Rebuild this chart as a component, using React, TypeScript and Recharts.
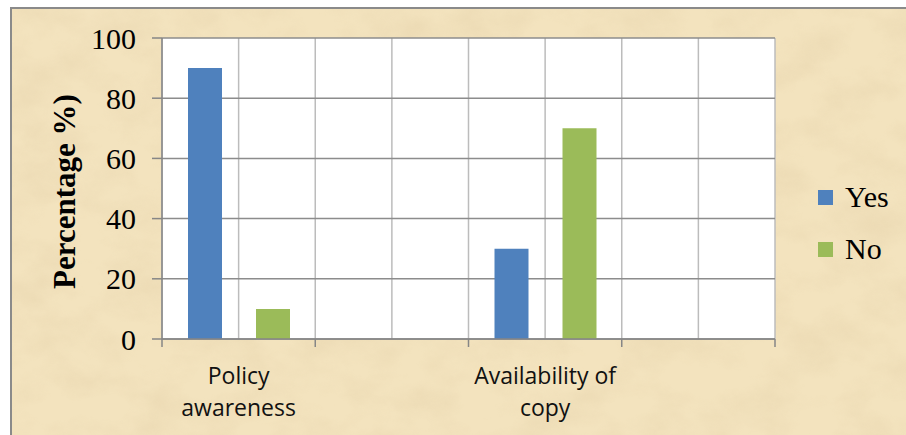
import { BarChart, Bar, XAxis, YAxis, CartesianGrid, Legend, Label } from "recharts"

const categories = ["Policy\nawareness", "", "Availability of\ncopy", ""]
const seriesNames = ["Yes", "No"]
const yesValues = [90, null, 30, null]
const noValues = [10, null, 70, null]
const yTicks = [0, 20, 40, 60, 80, 100]

const W = 906
const H = 435
const margin = { top: 38, right: 131, bottom: 36, left: 62 }
const Y_AXIS_W = 100
const X_AXIS_H = 60
const PLOT_W = W - margin.left - margin.right - Y_AXIS_W
const BAND = PLOT_W / categories.length

const serif = '"Liberation Serif", "Times New Roman", serif'
const sans = '"Open Sans", "Liberation Sans", sans-serif'
const axisGray = "#868686"

const rows = categories.map((name, i) => ({
  slot: i,
  name,
  yes: yesValues[i],
  no: noValues[i],
}))

// category label plus tick marks on the band edges
function CategoryTick(props: any) {
  const { x, y, payload, index } = props
  const lines = (categories[payload.value] || "").split("\n").filter(Boolean)
  const left = x - BAND / 2
  const right = x + BAND / 2
  return (
    <g>
      <line x1={left} x2={left} y1={y} y2={y + 8} stroke={axisGray} strokeWidth={1.5} />
      {index === categories.length - 1 && (
        <line x1={right} x2={right} y1={y} y2={y + 8} stroke={axisGray} strokeWidth={1.5} />
      )}
      {lines.length > 0 && (
        <text x={x} y={y + 45} textAnchor="middle" fontFamily={sans} fontSize={23} fill="#111">
          {lines.map((l: string, i: number) => (
            <tspan key={i} x={x} dy={i ? 32 : 0}>
              {l}
            </tspan>
          ))}
        </text>
      )}
    </g>
  )
}

function YTitle({ viewBox }: any) {
  const cx = viewBox.x + 13
  const cy = viewBox.y + viewBox.height / 2 + 3
  return (
    <text
      transform={`translate(${cx}, ${cy}) rotate(-90)`}
      textAnchor="middle"
      fontFamily={serif}
      fontWeight="bold"
      fontSize={31}
      fill="#000"
    >
      Percentage %)
    </text>
  )
}

function LegendBox({ payload }: any) {
  const items = [...(payload || [])].sort(
    (a: any, b: any) => seriesNames.indexOf(a.value) - seriesNames.indexOf(b.value)
  )
  return (
    <div>
      {items.map((p: any) => (
        <div key={p.value} style={{ display: "flex", alignItems: "center", height: 52 }}>
          <span style={{ width: 15, height: 15, background: p.color, marginRight: 12 }} />
          <span style={{ fontFamily: serif, fontSize: 30, color: "#000", lineHeight: "30px" }}>
            {p.value}
          </span>
        </div>
      ))}
    </div>
  )
}

export default function App() {
  return (
    <div style={{ position: "absolute", left: 0, top: 0, width: W, height: H, background: "#fff", overflow: "hidden" }}>
      <div
        style={{
          position: "absolute",
          left: 10,
          top: 7,
          right: 0,
          bottom: 0,
          borderLeft: "2px solid #8a8a8a",
          borderTop: "2px solid #8a8a8a",
        }}
      >
        {/* parchment backdrop */}
        <svg width="100%" height="100%" style={{ display: "block" }}>
          <defs>
            <filter id="paper" x="0" y="0" width="100%" height="100%">
              <feTurbulence type="fractalNoise" baseFrequency="0.018 0.026" numOctaves={5} seed={7} />
              <feColorMatrix
                type="matrix"
                values="0 0 0 0 0.80  0 0 0 0 0.66  0 0 0 0 0.42  1.8 0 0 0 -0.7"
              />
            </filter>
          </defs>
          <rect width="100%" height="100%" fill="#F3E3BE" />
          <rect width="100%" height="100%" fill="#000" filter="url(#paper)" opacity={0.6} />
        </svg>
      </div>
      <div style={{ position: "absolute", left: 0, top: 0 }}>
        <BarChart width={W} height={H} data={rows} margin={margin} barGap={34}>
          <CartesianGrid
            horizontal={false}
            fill="#fff"
            stroke="#bcbcbc"
            strokeWidth={1.5}
            verticalCoordinatesGenerator={({ offset }: any) =>
              Array.from({ length: categories.length * 2 + 1 }, (_, i) => offset.left + (offset.width * i) / (categories.length * 2))
            }
          />
          <CartesianGrid
            vertical={false}
            stroke="#8c8c8c"
            strokeWidth={1.5}
            horizontalCoordinatesGenerator={({ offset }: any) =>
              yTicks.map((t) => offset.top + offset.height * (1 - t / 100))
            }
          />
          <XAxis
            dataKey="slot"
            type="category"
            interval={0}
            height={X_AXIS_H}
            tickLine={false}
            tickSize={0}
            tickMargin={0}
            axisLine={{ stroke: axisGray, strokeWidth: 1.5 }}
            tick={<CategoryTick />}
          />
          <YAxis
            domain={[0, 100]}
            ticks={yTicks}
            interval={0}
            width={Y_AXIS_W}
            tickSize={10}
            tickMargin={16}
            axisLine={{ stroke: axisGray, strokeWidth: 1.5 }}
            tickLine={{ stroke: axisGray, strokeWidth: 1.5 }}
            tick={{ fill: "#000", fontSize: 30, fontFamily: serif }}
          >
            <Label content={<YTitle />} />
          </YAxis>
          <Legend
            layout="vertical"
            align="center"
            verticalAlign="middle"
            wrapperStyle={{ left: 818, top: 171, width: 90 }}
            content={<LegendBox />}
          />
          <Bar dataKey="yes" name="Yes" fill="#4F81BD" barSize={34} isAnimationActive={false} />
          <Bar dataKey="no" name="No" fill="#9BBB59" barSize={34} isAnimationActive={false} />
        </BarChart>
      </div>
    </div>
  )
}
